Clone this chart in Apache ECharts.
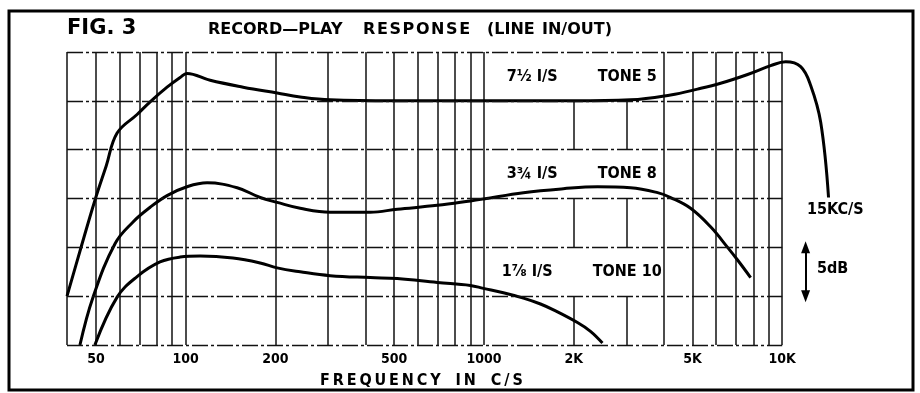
<!DOCTYPE html>
<html>
<head>
<meta charset="utf-8">
<script src="https://cdn.jsdelivr.net/npm/echarts@6/dist/echarts.min.js"></script>
<style>
  html, body { margin: 0; padding: 0; background: #fff; }
  #chart { width: 920px; height: 393px; }
</style>
</head>
<body>
<div id="chart"></div>
<script>
// Record-play response (line in/out) at three tape speeds, log frequency scale.

// Chart-paper rulings
const gridFreqs = [40, 50, 60, 70, 80, 90, 100, 200, 300, 400, 500, 600, 700, 800, 900,
  1000, 2000, 3000, 4000, 5000, 6000, 7000, 8000, 9000, 10000];
const tickFreqs = [50, 100, 200, 500, 1000, 2000, 5000, 10000];
const tickLabels = ['50', '100', '200', '500', '1000', '2K', '5K', '10K'];
const levelLines = [0, 5, 10, 15, 20, 25, 30];

// 7½ in/s, tone setting 5
const speed75Freq = [40, 44.2, 49.6, 54.1, 58.9, 68.7, 76, 86.6, 95.8, 101, 120.8, 155.8, 202.6,
  242, 305, 500, 1000, 2000, 3100, 4225, 5200, 6215, 7655, 9145, 10270, 11530, 12450, 13460, 14300];
const speed75Db = [5.0, 9.6, 14.8, 18.3, 21.7, 23.6, 24.9, 26.4, 27.4, 27.8, 27.1, 26.4, 25.8,
  25.4, 25.1, 25.0, 25.0, 25.0, 25.1, 25.6, 26.2, 26.8, 27.7, 28.6, 29.0, 28.5, 26.6, 22.8, 15.1];

// 3¾ in/s, tone setting 8
const speed375Freq = [44.2, 48.9, 58, 66.6, 76, 86.6, 101, 118, 148.8, 177.7, 202.6, 242, 305,
  415.6, 512, 697.6, 900, 995.6, 1356, 1846, 2402, 3100, 3820, 4225, 4929, 5752, 6559, 7085, 7836];
const speed375Db = [0, 4.9, 10.4, 12.6, 14.1, 15.3, 16.2, 16.6, 16.1, 15.1, 14.6, 14.0, 13.6,
  13.6, 13.9, 14.3, 14.75, 14.95, 15.6, 16.0, 16.2, 16.1, 15.6, 15.1, 14.0, 12.1, 10.0, 8.7, 6.9];

// 1⅞ in/s, tone setting 10
const speed178Freq = [49.6, 58.9, 68.7, 82, 95.8, 111.8, 144, 177.7, 202.6, 242, 305, 415.6,
  512, 697.6, 900, 995.6, 1162, 1356, 1547, 1710, 2058, 2276, 2496];
const speed178Db = [0, 4.9, 7.0, 8.5, 9.0, 9.1, 8.9, 8.4, 7.9, 7.5, 7.1, 6.9,
  6.8, 6.4, 6.1, 5.8, 5.35, 4.8, 4.2, 3.6, 2.3, 1.4, 0.2];

// Caption panels: speed, tone, lower edge of the 5 dB band they sit in
const speedCaptions = ['7½ I/S', '3¾ I/S', '1⅞ I/S'];
const toneCaptions = ['TONE 5', 'TONE 8', 'TONE 10'];
const captionBandDb = [25, 15, 5];
const captionFreqRange = [1010, 3960];

// 5 dB scale marker
const scaleMarkFreq = 11980;
const scaleMarkDb = [5, 10];

const NARROW = '"DejaVu Sans Condensed", "Liberation Sans Narrow", "DejaVu Sans", sans-serif';
const WIDE = '"DejaVu Sans", sans-serif';
const INK = '#000';

const pairs = (xs, ys) => xs.map((x, i) => [x, ys[i]]);
const spread = (s, gap) => s.split('').join(gap || '\u2009');
const heading = (text, left, top, font) =>
  ({ type: 'text', left, top, silent: true, style: { text, font, fill: INK } });

const curveStyle = {
  type: 'line', showSymbol: false, smooth: 0.4,
  lineStyle: { color: INK, width: 3 }, z: 4, silent: true
};

const chart = echarts.init(document.getElementById('chart'), null, { renderer: 'canvas' });

chart.setOption({
  backgroundColor: '#fff',
  animation: false,
  grid: { left: 67, right: 48, top: 52, bottom: 48, containLabel: false, outerBoundsMode: 'none' },
  xAxis: {
    type: 'log', logBase: 10, min: 40, max: 20000,
    axisLine: { show: false },
    axisTick: { show: false, customValues: gridFreqs },
    splitLine: { show: true, lineStyle: { color: '#111', width: 1.5 } },
    minorSplitLine: { show: false },
    axisLabel: {
      customValues: tickFreqs,
      margin: 7,
      color: INK, fontFamily: NARROW, fontWeight: 'bold', fontSize: 14,
      formatter: (v) => {
        const i = tickFreqs.findIndex(f => Math.abs(f - v) / f < 1e-6);
        return i >= 0 ? tickLabels[i] : '';
      }
    }
  },
  yAxis: { type: 'value', min: 0, max: 30, interval: 5, show: false },
  series: [
    {
      name: 'captions', type: 'line', data: [], z: 1, silent: true,
      markArea: {
        silent: true,
        itemStyle: { color: '#fff', opacity: 1 },
        label: {
          show: true, position: 'inside', color: INK, offset: [8, 0],
          rich: {
            a: { fontFamily: NARROW, fontWeight: 'bold', fontSize: 16, color: INK },
            g: { width: 40 },
            b: { fontFamily: NARROW, fontWeight: 'bold', fontSize: 16, color: INK }
          }
        },
        data: captionBandDb.map((lo, i) => [
          {
            xAxis: captionFreqRange[0], yAxis: lo,
            label: { formatter: '{a|' + speedCaptions[i] + '}{g|}{b|' + toneCaptions[i] + '}' }
          },
          { xAxis: captionFreqRange[1], yAxis: lo + 5 }
        ])
      }
    },
    {
      name: 'rulings', type: 'line', data: [], z: 3, silent: true,
      markLine: {
        silent: true, symbol: 'none', label: { show: false },
        lineStyle: { color: '#111', width: 1.3, type: [16, 3, 3, 3] },
        data: levelLines.map(v => [
          { coord: [gridFreqs[0], v] },
          { coord: [gridFreqs[gridFreqs.length - 1], v] }
        ]).concat([[
          { coord: [scaleMarkFreq, scaleMarkDb[0]], symbol: 'triangle', symbolSize: [9, 12], symbolRotate: 180,
            lineStyle: { type: 'solid', width: 2, color: INK } },
          { coord: [scaleMarkFreq, scaleMarkDb[1]], symbol: 'triangle', symbolSize: [9, 12] }
        ]])
      }
    },
    Object.assign({ name: '7½ I/S', data: pairs(speed75Freq, speed75Db) }, curveStyle),
    Object.assign({ name: '3¾ I/S', data: pairs(speed375Freq, speed375Db) }, curveStyle),
    Object.assign({ name: '1⅞ I/S', data: pairs(speed178Freq, speed178Db) }, curveStyle)
  ],
  graphic: [
    { type: 'rect', shape: { x: 9, y: 11, width: 904, height: 379 },
      style: { fill: 'none', stroke: INK, lineWidth: 3 }, silent: true },
    heading('FIG. 3', 67, 18, 'bold 21px ' + WIDE),
    heading('RECORD\u2014PLAY', 208, 22, 'bold 16px ' + WIDE),
    heading(spread('RESPONSE', '\u200A'), 363, 22, 'bold 16px ' + WIDE),
    heading('(LINE', 487, 22, 'bold 16px ' + WIDE),
    heading('IN/OUT)', 542, 22, 'bold 16px ' + WIDE),
    heading(spread('FREQUENCY') + '   ' + spread('IN') + '   ' + spread('C/S'), 320, 373, 'bold 16px ' + NARROW),
    heading('15KC/S', 807, 202, 'bold 16px ' + NARROW),
    heading('5dB', 817, 261, 'bold 16px ' + NARROW)
  ]
});
</script>
</body>
</html>
